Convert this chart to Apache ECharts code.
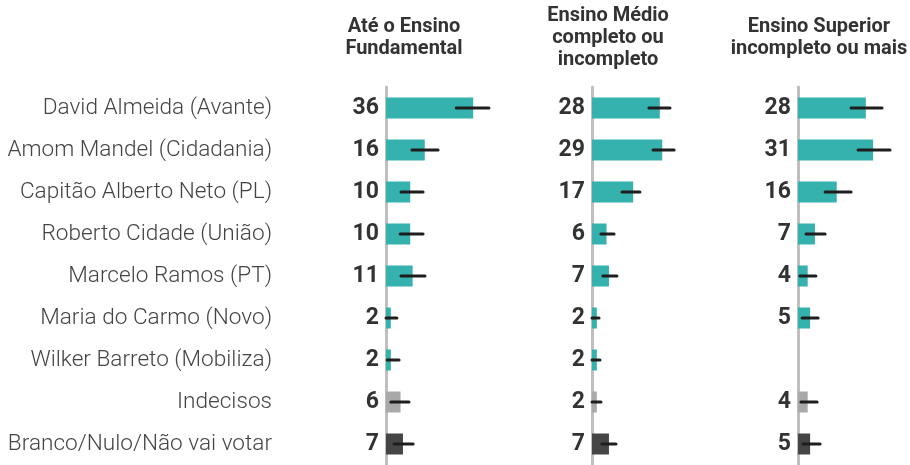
<!DOCTYPE html>
<html>
<head>
<meta charset="utf-8">
<script src="https://cdn.jsdelivr.net/npm/echarts@6/dist/echarts.min.js"></script>
<style>
  html, body { margin: 0; padding: 0; background: #fff; }
  #chart { width: 910px; height: 465px; }
</style>
</head>
<body>
<div id="chart"></div>
<script>
// categorias (candidatos)
const categories = [
  "David Almeida (Avante)",
  "Amom Mandel (Cidadania)",
  "Capitão Alberto Neto (PL)",
  "Roberto Cidade (União)",
  "Marcelo Ramos (PT)",
  "Maria do Carmo (Novo)",
  "Wilker Barreto (Mobiliza)",
  "Indecisos",
  "Branco/Nulo/Não vai votar"
];
const panelTitles = [
  ["Até o Ensino", "Fundamental"],
  ["Ensino Médio", "completo ou", "incompleto"],
  ["Ensino Superior", "incompleto ou mais"]
];
// valores (%)
const fundamental = [36, 16, 10, 10, 11, 2, 2, 6, 7];
const medio = [28, 29, 17, 6, 7, 2, 2, 2, 7];
const superior = [28, 31, 16, 7, 4, 5, null, 4, 5];
// margem de erro [min, max]
const fundamentalErr = [[29, 42.5], [10.7, 21.5], [6.2, 15.3], [5.8, 15.3], [6.2, 16.1], [0, 4.5], [0.5, 5.4], [2, 9.5], [3.3, 11.2]];
const medioErr = [[23.5, 32.2], [25.2, 33.9], [12.4, 19.8], [3.7, 9.1], [4.5, 10.3], [0, 2.9], [0, 3.3], [0, 3.7], [4.1, 9.9]];
const superiorErr = [[21.9, 34.7], [24.8, 38], [11.2, 21.9], [3.3, 11.2], [0.8, 7.4], [1.7, 8.3], null, [1.2, 7.9], [2, 9.1]];

const panels = [
  { values: fundamental, err: fundamentalErr, left: 386, titleX: 404, titleY: [27, 49] },
  { values: medio, err: medioErr, left: 592, titleX: 608, titleY: [16, 38, 60] },
  { values: superior, err: superiorErr, left: 798, titleX: 819, titleY: [27, 49] }
];

const TEAL = "#35b1ae";
const barColor = idx => (idx === 7 ? "#a9a9a9" : idx === 8 ? "#454545" : TEAL);

const chart = echarts.init(document.getElementById("chart"));

const grid = panels.map(p => ({ left: p.left, top: 87, width: 109, height: 378 }));
const xAxis = panels.map((p, i) => ({
  type: "value",
  gridIndex: i,
  min: 0,
  max: 45,
  show: false
}));
const yAxis = panels.map((p, i) => ({
  type: "category",
  gridIndex: i,
  data: categories,
  inverse: true,
  offset: 2,
  axisLine: { show: true, lineStyle: { color: "#bfbfbf", width: 3 } },
  axisTick: { show: false },
  axisLabel: {
    show: i === 0,
    margin: 112,
    fontFamily: "Roboto",
    fontWeight: 300,
    fontSize: 22.6,
    color: "#444"
  }
}));

const series = [];
panels.forEach((p, i) => {
  series.push({
    type: "bar",
    xAxisIndex: i,
    yAxisIndex: i,
    barWidth: 21,
    data: p.values.map((v, idx) => ({ value: v, itemStyle: { color: barColor(idx) } })),
    label: {
      show: true,
      position: "left",
      distance: 7,
      fontFamily: "Roboto",
      fontWeight: "bold",
      fontSize: 23,
      color: "#333",
      formatter: d => (d.value == null ? "" : d.value)
    },
    silent: true
  });
  // barras de erro
  series.push({
    type: "custom",
    xAxisIndex: i,
    yAxisIndex: i,
    encode: { x: [1, 2], y: 0 },
    data: p.err.map((e, idx) => (e ? [idx, e[0], e[1]] : [idx, "-", "-"])),
    renderItem: (params, api) => {
      const lo = api.value(1);
      const hi = api.value(2);
      if (isNaN(lo) || isNaN(hi)) return;
      const a = api.coord([lo, api.value(0)]);
      const b = api.coord([hi, api.value(0)]);
      return {
        type: "line",
        shape: { x1: a[0], y1: a[1], x2: b[0], y2: b[1] },
        style: { stroke: "#1e1e1e", lineWidth: 3, lineCap: "round" }
      };
    },
    z: 5,
    silent: true
  });
});

// títulos das colunas
const graphic = [];
panels.forEach((p, i) => {
  panelTitles[i].forEach((line, j) => {
    graphic.push({
      type: "text",
      x: p.titleX,
      y: p.titleY[j],
      style: {
        text: line,
        fontFamily: "Roboto",
        fontWeight: "bold",
        fontSize: 20,
        fill: "#333",
        textAlign: "center",
        textVerticalAlign: "middle"
      }
    });
  });
});

chart.setOption({
  animation: false,
  grid,
  xAxis,
  yAxis,
  series,
  graphic
});
</script>
</body>
</html>
